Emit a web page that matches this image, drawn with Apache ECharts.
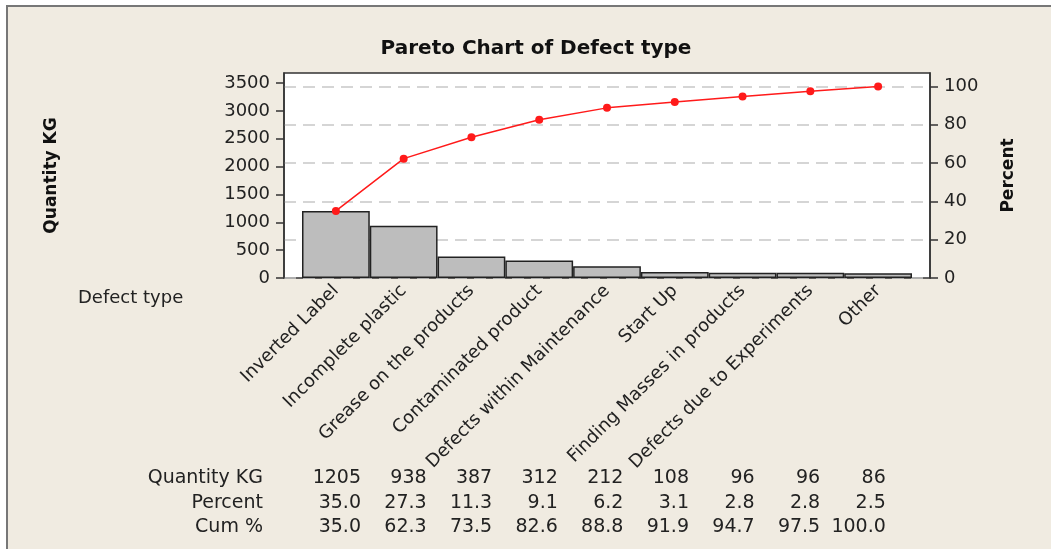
<!DOCTYPE html>
<html>
<head>
<meta charset="utf-8">
<script src="https://cdn.jsdelivr.net/npm/echarts@6/dist/echarts.min.js"></script>
<style>
  html, body { margin: 0; padding: 0; background: #fff; }
  #main { width: 1051px; height: 549px; }
</style>
</head>
<body>
<div id="main"></div>
<script>
// data
const categories = ['Inverted Label', 'Incomplete plastic', 'Grease on the products', 'Contaminated product',
  'Defects within Maintenance', 'Start Up', 'Finding Masses in products', 'Defects due to Experiments', 'Other']
const quantity = [1205, 938, 387, 312, 212, 108, 96, 96, 86]
const percent = [35.0, 27.3, 11.3, 9.1, 6.2, 3.1, 2.8, 2.8, 2.5]
const cumPercent = [35.0, 62.3, 73.5, 82.6, 88.8, 91.9, 94.7, 97.5, 100.0]
const rowLabels = ['Quantity KG', 'Percent', 'Cum %']
const qtyTicks = [0, 500, 1000, 1500, 2000, 2500, 3000, 3500]
const pctTicks = [0, 20, 40, 60, 80, 100]

const font = 'DejaVu Sans'
const total = quantity.reduce((a, b) => a + b, 0)
const pctMax = 107
const qtyMax = total * pctMax / 100

// frame of the plot, bars sit inside with some padding
const plot = { left: 284, top: 73, width: 646, height: 205 }
const pad = 18

// summary table under the chart
const tableRows = [
  quantity.map(v => String(v)),
  percent.map(v => v.toFixed(1)),
  cumPercent.map(v => v.toFixed(1))
]
const table = []
const colRight0 = 361
const colStep = 65.6
const rowY = [478, 503, 527]
rowLabels.forEach((lab, r) => {
  table.push({
    type: 'text', x: 263, y: rowY[r],
    style: { text: lab, font: '19px "' + font + '"', fill: '#222', align: 'right', verticalAlign: 'middle' }
  })
  tableRows[r].forEach((txt, i) => {
    table.push({
      type: 'text', x: colRight0 + colStep * i, y: rowY[r],
      style: { text: txt, font: '19px "' + font + '"', fill: '#222', align: 'right', verticalAlign: 'middle' }
    })
  })
})

const axisColor = '#333'

const option = {
  animation: false,
  backgroundColor: '#fff',
  textStyle: { fontFamily: font },
  title: {
    text: 'Pareto Chart of Defect type',
    left: 531, top: 34, textAlign: 'center',
    textStyle: { fontFamily: font, fontSize: 20, fontWeight: 'bold', color: '#111' }
  },
  graphic: [
    {
      type: 'rect', z: -100, silent: true,
      shape: { x: 7, y: 6, width: 1060, height: 560 },
      style: { fill: '#f0ebe1', stroke: '#777', lineWidth: 2 }
    },
    {
      type: 'text', x: 78, y: 298,
      style: { text: 'Defect type', font: '18px "' + font + '"', fill: '#222', verticalAlign: 'middle' }
    }
  ].concat(table),
  grid: [
    {
      left: plot.left, top: plot.top, width: plot.width, height: plot.height,
      show: true, backgroundColor: '#fff', borderColor: axisColor, borderWidth: 1.5
    },
    {
      left: plot.left + pad, top: plot.top, width: plot.width - 2 * pad, height: plot.height
    }
  ],
  xAxis: [
    { gridIndex: 0, type: 'value', min: 0, max: 1, show: false },
    {
      gridIndex: 1, type: 'category', data: categories, boundaryGap: true,
      axisLine: { show: false },
      axisTick: { alignWithLabel: true, length: 7, lineStyle: { color: axisColor, width: 1.5 } },
      axisLabel: { rotate: 45, interval: 0, margin: 10, fontSize: 18, color: '#222' }
    }
  ],
  yAxis: [
    {
      // dashed reference lines only
      gridIndex: 0, type: 'value', min: 0, max: pctMax, interval: 20,
      axisLine: { show: false }, axisTick: { show: false }, axisLabel: { show: false },
      splitLine: { show: true, showMaxLine: false, lineStyle: { color: '#c8c8c8', width: 1.5, type: [12, 7] } }
    },
    {
      gridIndex: 0, type: 'value', position: 'right', min: 0, max: pctMax,
      name: 'Percent', nameLocation: 'middle', nameRotate: 90, nameGap: 70,
      nameTextStyle: { fontSize: 17, fontWeight: 'bold', color: '#111' },
      axisLine: { show: true, lineStyle: { color: axisColor, width: 1.5 } },
      axisTick: { show: true, length: 8, customValues: pctTicks, lineStyle: { color: axisColor, width: 1.5 } },
      axisLabel: { fontSize: 18, color: '#222', margin: 14, customValues: pctTicks },
      splitLine: { show: false }
    },
    {
      gridIndex: 0, type: 'value', position: 'left', min: 0, max: qtyMax,
      name: 'Quantity KG', nameLocation: 'middle', nameRotate: 90, nameGap: 224,
      nameTextStyle: { fontSize: 17, fontWeight: 'bold', color: '#111' },
      axisLine: { show: true, lineStyle: { color: axisColor, width: 1.5 } },
      axisTick: { show: true, length: 8, customValues: qtyTicks, lineStyle: { color: axisColor, width: 1.5 } },
      axisLabel: { fontSize: 18, color: '#222', margin: 14, customValues: qtyTicks, formatter: v => String(v) },
      splitLine: { show: false }
    },
    { gridIndex: 1, type: 'value', min: 0, max: qtyMax, show: false, splitLine: { show: false } },
    { gridIndex: 1, type: 'value', min: 0, max: pctMax, show: false, splitLine: { show: false } }
  ],
  series: [
    {
      name: 'Quantity KG', type: 'bar', xAxisIndex: 1, yAxisIndex: 3,
      data: quantity, barCategoryGap: '0%',
      itemStyle: { color: '#bdbdbd', borderColor: '#222', borderWidth: 1.5 }
    },
    {
      name: 'Cum %', type: 'line', xAxisIndex: 1, yAxisIndex: 4,
      data: cumPercent, symbol: 'circle', symbolSize: 8,
      lineStyle: { color: '#ff1a1a', width: 1.5 },
      itemStyle: { color: '#ff1a1a' }
    }
  ]
}

const myChart = echarts.init(document.getElementById('main'))
myChart.setOption(option)
</script>
</body>
</html>
